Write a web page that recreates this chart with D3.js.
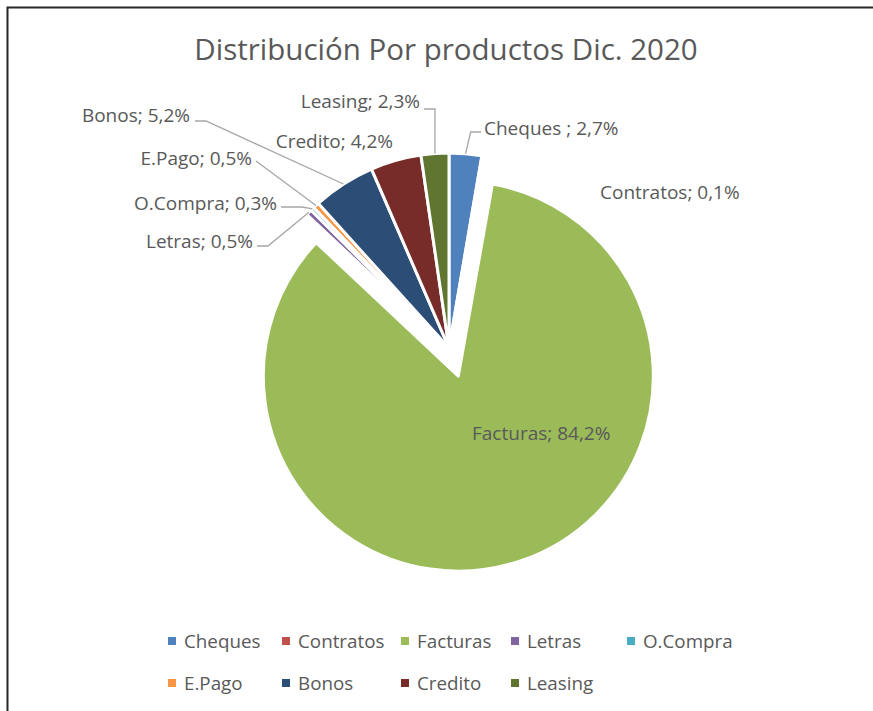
<!DOCTYPE html>
<html>
<head>
<meta charset="utf-8">
<script src="https://cdn.jsdelivr.net/npm/d3@7"></script>
<style>
  html, body { margin: 0; padding: 0; background: #ffffff; }
  svg { display: block; }
  text { font-family: "Open Sans", "Noto Sans", sans-serif; fill: #595959; }
</style>
</head>
<body>
<div id="chart"></div>
<script>
// ---- data ----
const title = "Distribución Por productos Dic. 2020";
const categories = ["Cheques ", "Contratos", "Facturas", "Letras", "O.Compra", "E.Pago", "Bonos", "Credito", "Leasing"];
const values = [2.7, 0.1, 84.2, 0.5, 0.3, 0.5, 5.2, 4.2, 2.3];
const colors = ["#4F81BD", "#C0504D", "#9BBB59", "#8064A2", "#4BACC6", "#F79646", "#2C4D75", "#772C2A", "#5F7530"];
const explodedCategory = "Facturas";

// ---- layout ----
const W = 873, H = 711;
const cx = 449, cy = 348, R = 195, explode = 29.6;

const svg = d3.select("#chart").append("svg").attr("width", W).attr("height", H);

// frame
svg.append("rect").attr("x", 7.5).attr("y", 7.5).attr("width", 900).attr("height", 800)
  .attr("fill", "none").attr("stroke", "#262626").attr("stroke-width", 2);

// title
svg.append("text").attr("x", 446).attr("y", 48).attr("text-anchor", "middle")
  .attr("dominant-baseline", "central").style("font-size", "29.5px").text(title);

const data = categories.map((c, i) => ({ name: c, value: values[i], color: colors[i] }));
const pie = d3.pie().sort(null).value(d => d.value).startAngle(0).endAngle(2 * Math.PI);
const arcs = pie(data);
const arc = d3.arc().innerRadius(0).outerRadius(R);

const g = svg.append("g").attr("transform", `translate(${cx},${cy})`);
const offsetOf = d => {
  if (d.data.name !== explodedCategory) return [0, 0];
  const m = (d.startAngle + d.endAngle) / 2;
  return [Math.sin(m) * explode, -Math.cos(m) * explode];
};
g.selectAll("path.slice").data(arcs).enter().append("path")
  .attr("class", "slice")
  .attr("transform", d => { const o = offsetOf(d); return `translate(${o[0]},${o[1]})`; })
  .attr("d", arc)
  .attr("fill", d => d.data.color)
  .attr("stroke", "#ffffff").attr("stroke-width", 3).attr("stroke-linejoin", "round");

// labels (manual label placement like the original)
const fmt = v => String(v).replace(".", ",") + "%";
const labelLayout = {
  "Cheques ":  { x: 484, y: 128, anchor: "start", leader: [[470.7, 132], [481, 132]] },
  "Contratos": { x: 600, y: 192, anchor: "start", leader: null },
  "Facturas":  { x: 472, y: 433, anchor: "start", leader: null },
  "Letras":    { x: 253, y: 241, anchor: "end", leader: [[268, 246], [257, 246]] },
  "O.Compra":  { x: 277, y: 203, anchor: "end", leader: [[302, 207], [281, 207]] },
  "E.Pago":    { x: 252, y: 158, anchor: "end", leader: [[256, 161]] },
  "Bonos":     { x: 190, y: 115, anchor: "end", leader: [[206, 121], [195, 121]] },
  "Credito":   { x: 393, y: 141, anchor: "end", leader: null },
  "Leasing":   { x: 420, y: 101, anchor: "end", leader: [[435, 109], [424, 109]] }
};

arcs.forEach(d => {
  const L = labelLayout[d.data.name];
  if (!L) return;
  const m = (d.startAngle + d.endAngle) / 2;
  const o = offsetOf(d);
  if (L.leader) {
    const start = [cx + o[0] + Math.sin(m) * R, cy + o[1] - Math.cos(m) * R];
    const pts = [start].concat(L.leader);
    svg.append("path").attr("d", d3.line()(pts))
      .attr("fill", "none").attr("stroke", "#a6a6a6").attr("stroke-width", 1.3);
  }
  svg.append("text").attr("x", L.x).attr("y", L.y)
    .attr("text-anchor", L.anchor).attr("dominant-baseline", "central")
    .style("font-size", "19px")
    .text(d.data.name + "; " + fmt(d.data.value));
});

// legend
const legendCols = [172, 286, 405, 515, 631];
const legendRows = [641, 683];
const lg = svg.append("g");
data.forEach((d, i) => {
  const col = i < 5 ? i : i - 5;
  const row = i < 5 ? 0 : 1;
  const x = legendCols[col], y = legendRows[row];
  lg.append("rect").attr("x", x - 4).attr("y", y - 4).attr("width", 8).attr("height", 8).attr("fill", d.color);
  lg.append("text").attr("x", x + 12).attr("y", y).attr("dominant-baseline", "central")
    .style("font-size", "18.8px").text(d.name.trim());
});
</script>
</body>
</html>
